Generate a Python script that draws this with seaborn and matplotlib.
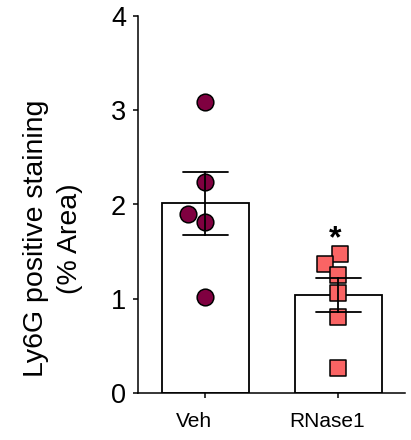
import matplotlib.pyplot as plt
import pandas as pd
import seaborn as sns
from matplotlib.transforms import ScaledTranslation

# values
groups = ["Veh", "RNase1"]
veh_values = [3.09, 2.24, 1.90, 1.81, 1.02]
rnase_values = [1.47, 1.37, 1.25, 1.06, 0.81, 0.27]
y_ticks = [0, 1, 2, 3, 4]
star_y = 1.55

colors = {"Veh": "#7F0040", "RNase1": "#FA6464"}
markers = {"Veh": "o", "RNase1": "s"}
sizes = {"Veh": 12, "RNase1": 11}

df = pd.DataFrame({
    "group": ["Veh"] * len(veh_values) + ["RNase1"] * len(rnase_values),
    "value": veh_values + rnase_values,
})

sns.set_style("ticks", {"axes.edgecolor": "black", "xtick.color": "black",
                        "ytick.color": "black", "text.color": "black",
                        "axes.labelcolor": "black"})
plt.rcParams["font.family"] = ["Liberation Sans", "DejaVu Sans"]

fig = plt.figure(figsize=(4.11, 4.40), dpi=100)
ax = fig.add_axes([138 / 411, 1 - 393 / 440, (405 - 138) / 411, (393 - 16) / 440])

sns.barplot(data=df, x="group", y="value", order=groups, errorbar="se",
            capsize=0.34, width=0.65, color="white", edgecolor="black",
            linewidth=1.3, err_kws={"color": "black", "linewidth": 1.3, "zorder": 5},
            ax=ax)

for g in groups:
    sub = df[df["group"] == g]
    sns.swarmplot(data=sub, x="group", y="value", order=groups, color=colors[g],
                  marker=markers[g], size=sizes[g], edgecolor="black",
                  linewidth=1.1, zorder=3, ax=ax)

star = ax.text(1, star_y, "*", ha="center", va="baseline", fontsize=23,
               fontweight="bold")

ax.set_ylim(0, 4)
ax.set_yticks(y_ticks)
ax.set_xlim(-0.506, 1.50)
sns.despine(ax=ax)
for s in ["left", "bottom"]:
    ax.spines[s].set_linewidth(1.1)

ax.tick_params(axis="y", length=3.6, width=1.1, labelsize=19.5, pad=5)
ax.tick_params(axis="x", length=3.6, width=1.1, labelsize=15, pad=10)
ax.set_xlabel("")
ax.set_ylabel("Ly6G positive staining\n(% Area)", fontsize=20.5, linespacing=1.42)
ax.yaxis.set_label_coords(-0.205, 0.41)

# tick labels and the star in the reference sit a little left of their ticks
offset = ScaledTranslation(-11 / 100, 0, fig.dpi_scale_trans)
for lab in ax.get_xticklabels():
    lab.set_transform(lab.get_transform() + offset)
star.set_transform(star.get_transform() + ScaledTranslation(-3 / 100, 0, fig.dpi_scale_trans))

fig.savefig("out.png", dpi=100)
